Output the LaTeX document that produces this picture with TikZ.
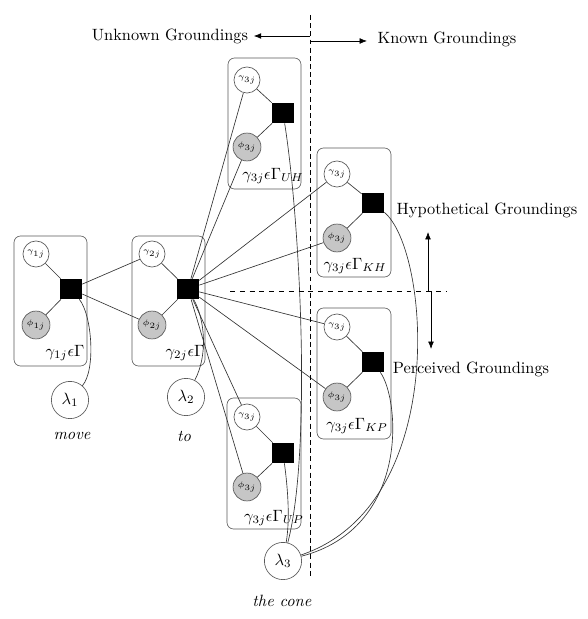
\documentclass[tikz,border=0pt]{standalone}
\usepackage{amsmath}
\usepackage{amssymb}
\usepackage{tikz}
\usetikzlibrary{calc,arrows.meta}

\begin{document}
\begin{tikzpicture}[x=0.0215cm, y=-0.0215cm,
    latent/.style={circle, draw=gray!70!black, minimum size=0.56cm, inner sep=0pt, font=\tiny},
    observed/.style={latent, fill=gray!45, minimum size=0.6cm},
    factor/.style={rectangle, fill=black, minimum width=0.47cm, minimum height=0.43cm, inner sep=0pt},
    word/.style={circle, draw=gray!70!black, minimum size=0.8cm, inner sep=0pt},
    plate/.style={draw=gray!70!black, rounded corners=4pt},
    edge/.style={draw=black!80},
    pointer/.style={-{Latex[length=4.5pt,width=3.5pt]}}]

    \useasboundingbox (0,0) rectangle (587,619);

    % Draw the plates
    \draw[plate] (14,236) rectangle (87,366);
    \draw[plate] (132,236) rectangle (205,366);
    \draw[plate] (228,58) rectangle (301,189);
    \draw[plate] (317,148) rectangle (391,277);
    \draw[plate] (317,308) rectangle (391,439);
    \draw[plate] (227,398) rectangle (301,529);

    % Groundings of the first word
    \node[latent] (g1) at (36,254) {$\gamma_{1j}$};
    \node[observed] (p1) at (36,325) {$\phi_{1j}$};
    \node[factor] (f1) at (71,289) {};
    \node (t1) at (65,353) {$\gamma_{1j}\epsilon\Gamma$};

    % Groundings of the second word
    \node[latent] (g2) at (152,254) {$\gamma_{2j}$};
    \node[observed] (p2) at (152,325) {$\phi_{2j}$};
    \node[factor] (f2) at (188,289) {};
    \node (t2) at (185,353) {$\gamma_{2j}\epsilon\Gamma$};

    % Groundings of the third word
    \node[latent] (g3uh) at (247,80) {$\gamma_{3j}$};
    \node[observed] (p3uh) at (247,147) {$\phi_{3j}$};
    \node[factor] (f3uh) at (283,113) {};
    \node (t3uh) at (273,176) {$\gamma_{3j}\epsilon\Gamma_{UH}$};

    \node[latent] (g3kh) at (337,174) {$\gamma_{3j}$};
    \node[observed] (p3kh) at (337,238) {$\phi_{3j}$};
    \node[factor] (f3kh) at (373,203) {};
    \node (t3kh) at (355,266) {$\gamma_{3j}\epsilon\Gamma_{KH}$};

    \node[latent] (g3kp) at (337,327) {$\gamma_{3j}$};
    \node[observed] (p3kp) at (337,397) {$\phi_{3j}$};
    \node[factor] (f3kp) at (373,362) {};
    \node (t3kp) at (357,426) {$\gamma_{3j}\epsilon\Gamma_{KP}$};

    \node[latent] (g3up) at (247,417) {$\gamma_{3j}$};
    \node[observed] (p3up) at (247,487) {$\phi_{3j}$};
    \node[factor] (f3up) at (283,453) {};
    \node (t3up) at (274,518) {$\gamma_{3j}\epsilon\Gamma_{UP}$};

    % Draw the words
    \node[word] (l1) at (70,400) {$\lambda_1$};
    \node[word] (l2) at (186,397) {$\lambda_2$};
    \node[word] (l3) at (283,561) {$\lambda_3$};
    \node (w1) at (72,436) {\textit{move}};
    \node (w2) at (184,436) {\textit{to}};
    \node (w3) at (282,601) {\textit{the cone}};

    % Draw the factor edges
    \draw[edge] (g1) -- (f1) (p1) -- (f1);
    \draw[edge] (g2) -- (f2) (p2) -- (f2);
    \draw[edge] (f1) -- (g2) (f1) -- (p2);
    \foreach \n in {uh,kh,kp,up}
        \draw[edge] (g3\n) -- (f3\n) (p3\n) -- (f3\n);
    \foreach \n in {g3uh,p3uh,g3kh,p3kh,g3kp,p3kp,g3up,p3up}
        \draw[edge] (f2) -- (\n);

    % Draw the word edges
    \draw[edge] (f1) .. controls (92,315) and (96,370) .. (l1);
    \draw[edge] (f2) .. controls (205,320) and (208,355) .. (l2);
    \draw[edge] (f3uh) .. controls (300,220) and (312,450) .. (l3);
    \draw[edge] (f3up) .. controls (288,490) and (290,520) .. (l3);
    \draw[edge] (f3kh) .. controls (430,250) and (450,505) .. (l3);
    \draw[edge] (f3kp) .. controls (400,400) and (410,528) .. (l3);

    % Draw the dividing lines
    \coordinate (vtop) at (310,15);
    \coordinate (vbot) at (310,578);
    \coordinate (hleft) at (230,291);
    \coordinate (hright) at (447,291);
    \draw[densely dashed] (vtop) -- (vbot);
    \draw[dashed] (hleft) -- (hright);

    % Draw the region labels
    \node (unk) at (170,36) {Unknown Groundings};
    \node (kn) at (447,39) {Known Groundings};
    \node (hyp) at (487,210) {Hypothetical Groundings};
    \node (per) at (471,369) {Perceived Groundings};

    \coordinate (a0) at (310,36);
    \coordinate (a1) at (310,41);
    \coordinate (a2) at (367,41);
    \coordinate (b0) at (428,291);
    \coordinate (b1) at (428,232);
    \coordinate (b2) at (431,291);
    \coordinate (b3) at (431,349);
    \draw[pointer] (a0) -- (unk.east);
    \draw[pointer] (a1) -- (a2);
    \draw[pointer] (b0) -- (b1);
    \draw[pointer] (b2) -- (b3);
\end{tikzpicture}
\end{document}
